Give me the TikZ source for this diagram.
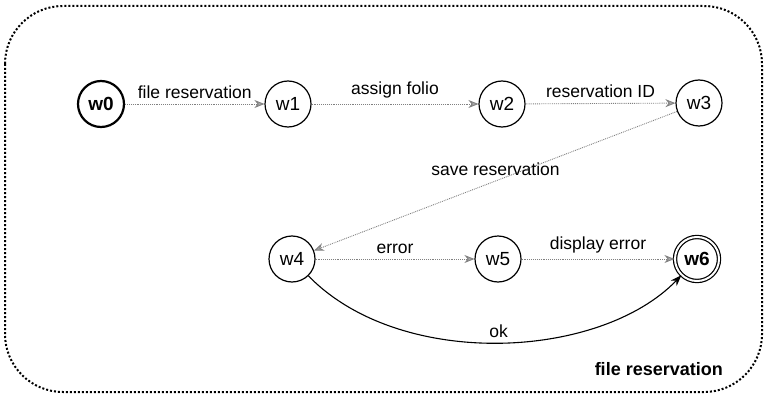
\documentclass[tikz,border=0pt]{standalone}
\usepackage{fontspec}
\setmainfont{Liberation Sans}
\usetikzlibrary{arrows.meta}
\begin{document}
\begin{tikzpicture}[x=1pt,y=-1pt,
  state/.style={draw,circle,line width=1.2pt,minimum size=46pt,inner sep=0pt,font=\fontsize{19}{21}\selectfont},
  trans/.style={draw=gray,densely dotted,line width=0.9pt,-{Stealth[length=10pt,width=8pt,fill=gray!70,color=gray]}},
  lbl/.style={font=\fontsize{17.5}{19}\selectfont,inner sep=1pt}]
\useasboundingbox (0,0) rectangle (767,398);
\draw[dotted,line width=2pt,rounded corners=58pt] (5,6) rectangle (762,392);
\node[state,line width=2.2pt,font=\fontsize{19}{21}\selectfont\bfseries] (w0) at (101,104) {w0};
\node[state] (w1) at (288,104) {w1};
\node[state] (w2) at (502,104) {w2};
\node[state] (w3) at (699,103) {w3};
\node[state] (w4) at (292,259) {w4};
\node[state] (w5) at (498,259) {w5};
\node[state,double,double distance=2pt,minimum size=44pt,font=\fontsize{19}{21}\selectfont\bfseries] (w6) at (697,259) {w6};
\draw[trans] (w0) -- node[lbl,above=4pt]{file reservation} (w1);
\draw[trans] (w1) -- node[lbl,above=4pt]{assign folio} (w2);
\draw[trans] (w2) -- node[lbl,above=4pt]{reservation ID} (w3);
\draw[trans] (w3) -- node[lbl,pos=0.5,above=4pt]{save reservation} (w4);
\draw[trans] (w4) -- node[lbl,above=4pt]{error} (w5);
\draw[trans] (w5) -- node[lbl,above=4pt]{display error} (w6);
\draw[line width=1.1pt,-{Stealth[length=11pt,width=8pt]}] (w4) .. controls (400,370) and (600,360) .. node[lbl,pos=0.5,above=3pt]{ok} (w6);
\node[lbl,font=\fontsize{18}{20}\selectfont\bfseries,anchor=east] (title) at (724,369) {file reservation};
\end{tikzpicture}
\end{document}
